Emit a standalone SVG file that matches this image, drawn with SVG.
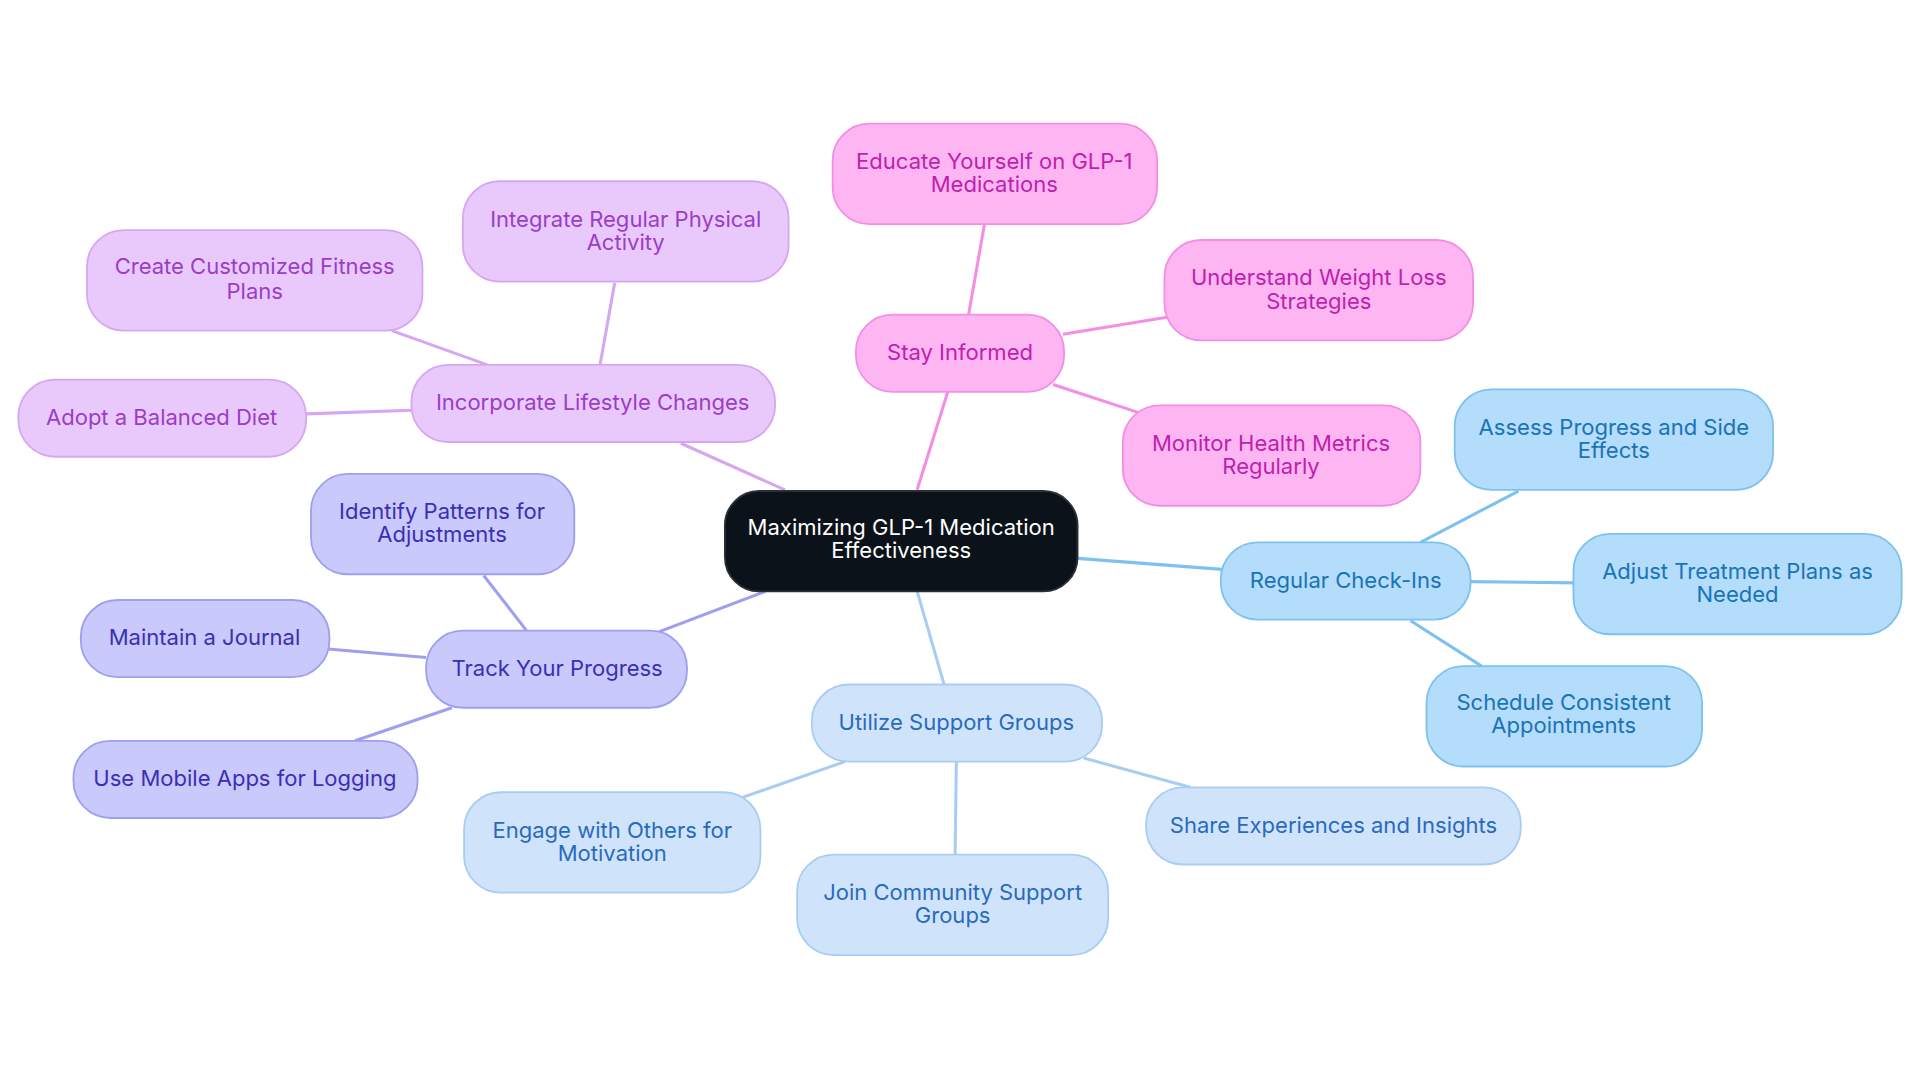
<svg xmlns="http://www.w3.org/2000/svg" width="1920" height="1083" viewBox="0 0 1920 1083">
<style>
text{font-family:Inter,"Noto Sans",sans-serif;font-size:18px;text-anchor:middle}
.c line{stroke-width:2.5;fill:none}
.pu rect{fill:#e9c9fb;stroke:#d7a6f2;stroke-width:1.5}.pu text{fill:#9a3dc8}
.pk rect{fill:#fdb6f1;stroke:#f48ee4;stroke-width:1.5}.pk text{fill:#c01eae}
.bl rect{fill:#b4dcfb;stroke:#7dc2ef;stroke-width:1.5}.bl text{fill:#1973b7}
.lb rect{fill:#cfe4fb;stroke:#a9cdf2;stroke-width:1.5}.lb text{fill:#2a6abd}
.in rect{fill:#c9c9fb;stroke:#9f9ff0;stroke-width:1.5}.in text{fill:#3a2fb5}
.ce rect{fill:#0c1219;stroke:#2a3038;stroke-width:1.5}.ce text{fill:#fff}
</style>
<rect width="1920" height="1083" fill="#fff"/>
<g transform="scale(1.22449)">
<g class="c" id="connectors">
<line x1="749" y1="400" x2="774" y2="320" stroke="#f48ee4"/>
<line x1="791" y1="257" x2="804" y2="183" stroke="#f48ee4"/>
<line x1="868" y1="273" x2="953" y2="259" stroke="#f48ee4"/>
<line x1="860" y1="314" x2="930" y2="337" stroke="#f48ee4"/>
<line x1="880" y1="456" x2="998" y2="465" stroke="#7dc2ef"/>
<line x1="1160" y1="443" x2="1240" y2="401" stroke="#7dc2ef"/>
<line x1="1201" y1="475" x2="1286" y2="476" stroke="#7dc2ef"/>
<line x1="1152" y1="507" x2="1210" y2="544" stroke="#7dc2ef"/>
<line x1="749" y1="483" x2="771" y2="559" stroke="#a9cdf2"/>
<line x1="690" y1="622" x2="607" y2="651" stroke="#a9cdf2"/>
<line x1="781" y1="622" x2="780" y2="698" stroke="#a9cdf2"/>
<line x1="885" y1="619" x2="972" y2="643" stroke="#a9cdf2"/>
<line x1="625" y1="483" x2="538" y2="516" stroke="#9f9ff0"/>
<line x1="430" y1="515" x2="395" y2="470" stroke="#9f9ff0"/>
<line x1="348" y1="537" x2="268" y2="530" stroke="#9f9ff0"/>
<line x1="369" y1="578" x2="290" y2="605" stroke="#9f9ff0"/>
<line x1="641" y1="400" x2="556" y2="362" stroke="#d7a6f2"/>
<line x1="490" y1="298" x2="502" y2="231" stroke="#d7a6f2"/>
<line x1="398" y1="298" x2="320" y2="270" stroke="#d7a6f2"/>
<line x1="336" y1="335" x2="250" y2="338" stroke="#d7a6f2"/>
</g>
<g id="center" class="ce"><rect x="592" y="401" width="288" height="82" rx="28"/><text x="736" y="437">Maximizing GLP-1 Medication</text><text x="736" y="456">Effectiveness</text></g>
<g id="stay" class="pk"><rect x="699" y="257" width="170" height="63" rx="30"/><text x="784" y="294">Stay Informed</text></g>
<g id="educate" class="pk"><rect x="680" y="101" width="265" height="82" rx="30"/><text x="812" y="138">Educate Yourself on GLP-1</text><text x="812" y="157">Medications</text></g>
<g id="understand" class="pk"><rect x="951" y="196" width="252" height="82" rx="30"/><text x="1077" y="233">Understand Weight Loss</text><text x="1077" y="252">Strategies</text></g>
<g id="monitor" class="pk"><rect x="917" y="331" width="243" height="82" rx="30"/><text x="1038" y="368">Monitor Health Metrics</text><text x="1038" y="387">Regularly</text></g>
<g id="checkins" class="bl"><rect x="997" y="443" width="204" height="63" rx="30"/><text x="1099" y="480">Regular Check-Ins</text></g>
<g id="assess" class="bl"><rect x="1188" y="318" width="260" height="82" rx="30"/><text x="1318" y="355">Assess Progress and Side</text><text x="1318" y="374">Effects</text></g>
<g id="adjust" class="bl"><rect x="1285" y="436" width="268" height="82" rx="30"/><text x="1419" y="473">Adjust Treatment Plans as</text><text x="1419" y="492">Needed</text></g>
<g id="schedule" class="bl"><rect x="1165" y="544" width="225" height="82" rx="30"/><text x="1277" y="580">Schedule Consistent</text><text x="1277" y="599">Appointments</text></g>
<g id="utilize" class="lb"><rect x="663" y="559" width="237" height="63" rx="30"/><text x="781" y="596">Utilize Support Groups</text></g>
<g id="engage" class="lb"><rect x="379" y="647" width="242" height="82" rx="30"/><text x="500" y="684">Engage with Others for</text><text x="500" y="703">Motivation</text></g>
<g id="join" class="lb"><rect x="651" y="698" width="254" height="82" rx="30"/><text x="778" y="735">Join Community Support</text><text x="778" y="754">Groups</text></g>
<g id="share" class="lb"><rect x="936" y="643" width="306" height="63" rx="30"/><text x="1089" y="680">Share Experiences and Insights</text></g>
<g id="track" class="in"><rect x="348" y="515" width="213" height="63" rx="30"/><text x="455" y="552">Track Your Progress</text></g>
<g id="identify" class="in"><rect x="254" y="387" width="215" height="82" rx="30"/><text x="361" y="424">Identify Patterns for</text><text x="361" y="443">Adjustments</text></g>
<g id="journal" class="in"><rect x="66" y="490" width="203" height="63" rx="30"/><text x="167" y="527">Maintain a Journal</text></g>
<g id="apps" class="in"><rect x="60" y="605" width="281" height="63" rx="30"/><text x="200" y="642">Use Mobile Apps for Logging</text></g>
<g id="lifestyle" class="pu"><rect x="336" y="298" width="297" height="63" rx="30"/><text x="484" y="335">Incorporate Lifestyle Changes</text></g>
<g id="integrate" class="pu"><rect x="378" y="148" width="266" height="82" rx="30"/><text x="511" y="185">Integrate Regular Physical</text><text x="511" y="204">Activity</text></g>
<g id="create" class="pu"><rect x="71" y="188" width="274" height="82" rx="30"/><text x="208" y="224">Create Customized Fitness</text><text x="208" y="244">Plans</text></g>
<g id="diet" class="pu"><rect x="15" y="310" width="235" height="63" rx="30"/><text x="132" y="347">Adopt a Balanced Diet</text></g>
</g>
</svg>
